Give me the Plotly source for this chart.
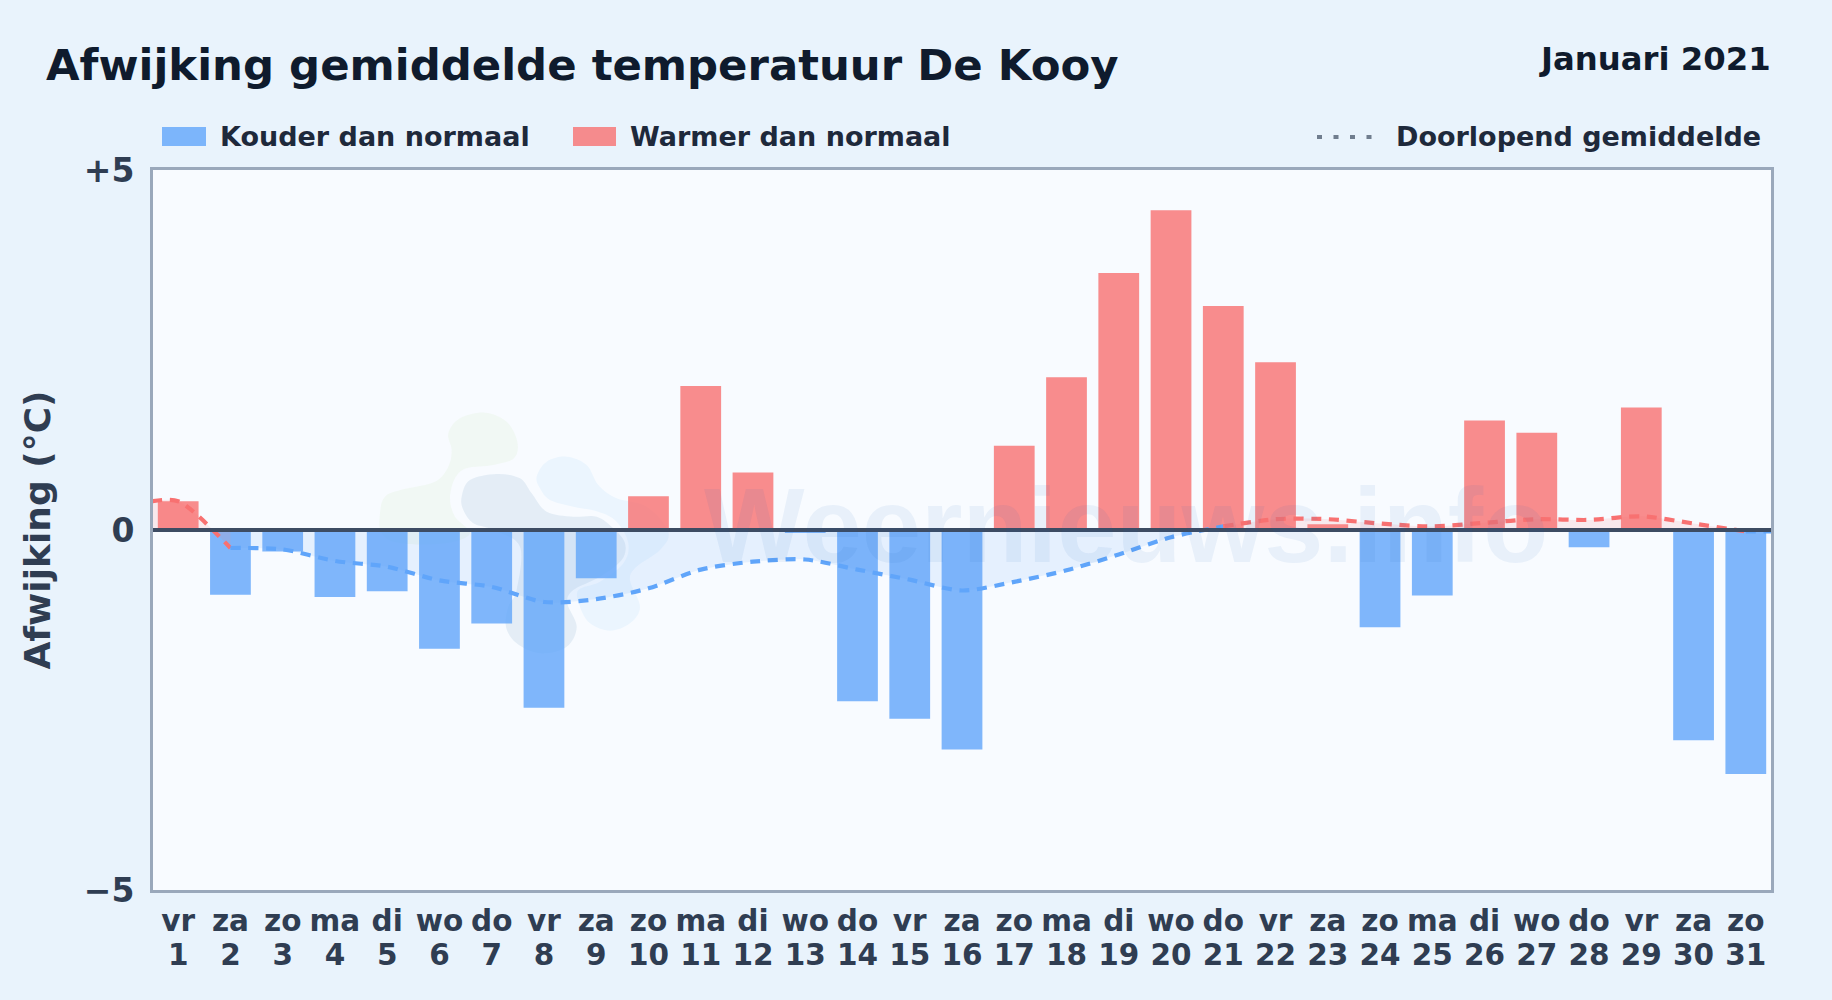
import plotly.graph_objects as go

# ---- data ----
days = list(range(1, 32))
weekdays = ["vr","za","zo","ma","di","wo","do","vr","za","zo","ma","di","wo","do","vr","za",
            "zo","ma","di","wo","do","vr","za","zo","ma","di","wo","do","vr","za","zo"]
deviation = [0.40,-0.90,-0.30,-0.93,-0.85,-1.65,-1.30,-2.47,-0.67,0.47,2.00,0.80,-0.04,-2.38,-2.62,-3.05,
             1.17,2.12,3.57,4.44,3.11,2.33,0.08,-1.35,-0.91,1.52,1.35,-0.24,1.70,-2.92,-3.39]
running_x = [0.5] + days + [31.5]
running_mean = [0.40,0.40,-0.25,-0.27,-0.43,-0.51,-0.70,-0.79,-1.00,-0.96,-0.81,-0.55,-0.44,-0.41,-0.55,-0.69,-0.84,
                -0.72,-0.56,-0.34,-0.10,0.05,0.15,0.15,0.09,0.05,0.10,0.15,0.14,0.19,0.09,-0.02,-0.02]
y_ticks = [-5, 0, 5]
y_labels = ["−5", "0", "+5"]
x_range = [0.518, 31.482]

FONT = "DejaVu Sans"
INK = "#0f1b2d"
TICK = "#2f3d52"
BLUE_BAR = "rgba(96,165,250,0.8)"
RED_BAR = "rgba(248,113,113,0.8)"
BLUE = "#60a5fa"
RED = "#f87171"

L, R, T, B = 153, 1771, 170, 890
def fx(px): return (px - L) / (R - L)
def fy(py): return (B - py) / (B - T)

def blob(points, color):
    # closed smooth outline through pixel points (logo watermark only)
    n = len(points)
    d = f"M {fx(points[0][0]):.5f} {fy(points[0][1]):.5f}"
    for i in range(n):
        p0, p1, p2, p3 = points[i-1], points[i], points[(i+1) % n], points[(i+2) % n]
        c1 = (p1[0] + (p2[0]-p0[0])/6, p1[1] + (p2[1]-p0[1])/6)
        c2 = (p2[0] - (p3[0]-p1[0])/6, p2[1] - (p3[1]-p1[1])/6)
        d += f" C {fx(c1[0]):.5f} {fy(c1[1]):.5f} {fx(c2[0]):.5f} {fy(c2[1]):.5f} {fx(p2[0]):.5f} {fy(p2[1]):.5f}"
    return dict(type="path", xref="paper", yref="paper", path=d + " Z", fillcolor=color,
                line=dict(width=0), layer="below")

def z(zx, zy):
    return (360 + zx/3, 400 + zy/3)

green = [z(*p) for p in [(60,340),(75,290),(130,268),(225,245),(265,200),(275,150),(265,100),(300,55),(375,38),(440,65),
                         (472,125),(462,175),(400,195),(320,205),(285,235),(270,295),(285,350),(330,400),(260,430),(120,430),(65,400)]]
grey = [z(*p) for p in [(305,290),(330,240),(410,222),(480,235),(515,280),(560,335),(640,350),(710,350),(760,385),(795,430),
                        (785,480),(720,530),(640,570),(622,610),(650,680),(620,740),(540,760),(470,730),(438,680),(445,620),
                        (470,570),(480,440),(400,390),(340,370),(310,330)]]
light = [z(*p) for p in [(530,230),(560,185),(620,170),(680,195),(715,255),(770,295),(860,320),(925,395),(900,450),(830,500),
                         (810,540),(840,620),(810,670),(750,692),(690,670),(660,620),(655,570),(720,545),(790,490),(805,430),
                         (770,365),(715,335),(640,320),(570,300),(540,265)]]

fig = go.Figure()
fig.add_trace(go.Bar(x=days, y=deviation,
                     marker=dict(color=[BLUE_BAR if v < 0 else RED_BAR for v in deviation], line=dict(width=0)),
                     width=0.78, showlegend=False))

segments = [(0, 3, RED, "rgba(248,113,113,0.13)"),
            (2, 22, BLUE, "rgba(96,165,250,0.12)"),
            (21, 32, RED, "rgba(248,113,113,0.13)"),
            (31, 33, BLUE, "rgba(96,165,250,0.12)")]
for a, b, col, fill in segments:
    fig.add_trace(go.Scatter(x=running_x[a:b], y=running_mean[a:b], mode="lines",
                             line=dict(color=col, width=4.2, dash="10px,7.7px", shape="spline", smoothing=0.8),
                             fill="tozeroy", fillcolor=fill, showlegend=False, hoverinfo="skip"))

# second tick row (day numbers) on an overlaid axis
fig.add_trace(go.Scatter(x=days, y=[None]*31, xaxis="x2", showlegend=False, hoverinfo="skip"))

shapes = [blob(green, "rgba(190,225,150,0.10)"), blob(grey, "rgba(140,175,205,0.18)"), blob(light, "rgba(130,200,250,0.10)"),
          dict(type="line", xref="paper", yref="y", x0=0, x1=1, y0=0, y1=0, layer="above",
               line=dict(color="#3d4c63", width=4)),
          dict(type="rect", xref="paper", yref="paper", x0=fx(162), x1=fx(206), y0=fy(127), y1=fy(146),
               fillcolor=BLUE_BAR, line=dict(width=0)),
          dict(type="rect", xref="paper", yref="paper", x0=fx(573), x1=fx(616), y0=fy(127), y1=fy(146),
               fillcolor=RED_BAR, line=dict(width=0)),
          dict(type="line", xref="paper", yref="paper", x0=fx(1317), x1=fx(1373), y0=fy(137), y1=fy(137),
               line=dict(color="rgba(71,85,105,0.75)", width=4, dash="5px,11.5px"))]

def label(text, px, py, anchor="left", size=27, color="#1e293b", family=FONT):
    return dict(text=f"<b>{text}</b>", xref="paper", yref="paper", x=fx(px), y=fy(py), xanchor=anchor, yanchor="middle",
                showarrow=False, font=dict(family=family, size=size, color=color))

annotations = [label("Kouder dan normaal", 217.5, 137),
               label("Warmer dan normaal", 628, 137),
               label("Doorlopend gemiddelde", 1763, 137, anchor="right"),
               label("Januari 2021", 1773.5, 59, anchor="right", size=32.3, color=INK),
               label("Weernieuws.info", 1126, 525, anchor="center", size=106.5, color="rgba(30,100,180,0.07)",
                     family="Liberation Sans")]

fig.update_layout(
    width=1832, height=1000,
    margin=dict(l=L, r=1832-R, t=T, b=1000-B),
    paper_bgcolor="#e9f3fc", plot_bgcolor="#f8fbff",
    font=dict(family=FONT, color=TICK),
    title=dict(text="<b>Afwijking gemiddelde temperatuur De Kooy</b>", x=46/1832, xanchor="left", xref="container",
               y=1-64.5/1000, yanchor="middle", yref="container", font=dict(family=FONT, size=43.4, color=INK)),
    barmode="overlay", showlegend=False,
    shapes=shapes, annotations=annotations,
    xaxis=dict(range=x_range, tickmode="array", tickvals=days, ticktext=[f"<b>{d}</b>" for d in weekdays],
               tickfont=dict(family=FONT, size=29.5, color=TICK), ticks="", showgrid=False, zeroline=False,
               showline=True, linecolor="#9aa8bb", linewidth=3, mirror=True, ticklabelstandoff=3, tickangle=0),
    xaxis2=dict(overlaying="x", side="bottom", anchor="y", range=x_range, tickmode="array", tickvals=days,
                ticktext=[f"<b>{d}</b>" for d in days], tickfont=dict(family=FONT, size=29.5, color=TICK), ticks="",
                showgrid=False, zeroline=False, showline=False, ticklabelstandoff=44, tickangle=0),
    yaxis=dict(range=[-5, 5], tickmode="array", tickvals=y_ticks, ticktext=[f"<b>{t}</b>" for t in y_labels],
               tickfont=dict(family=FONT, size=33, color=TICK), ticks="", showgrid=False, ticklabelstandoff=9,
               zeroline=False,
               showline=True, linecolor="#9aa8bb", linewidth=3, mirror=True,
               title=dict(text="<b>Afwijking (°C)</b>", font=dict(family=FONT, size=36, color=TICK), standoff=23)),
)

fig.write_html("out.html", post_script="document.body.style.margin='0';", config=dict(displayModeBar=False))
